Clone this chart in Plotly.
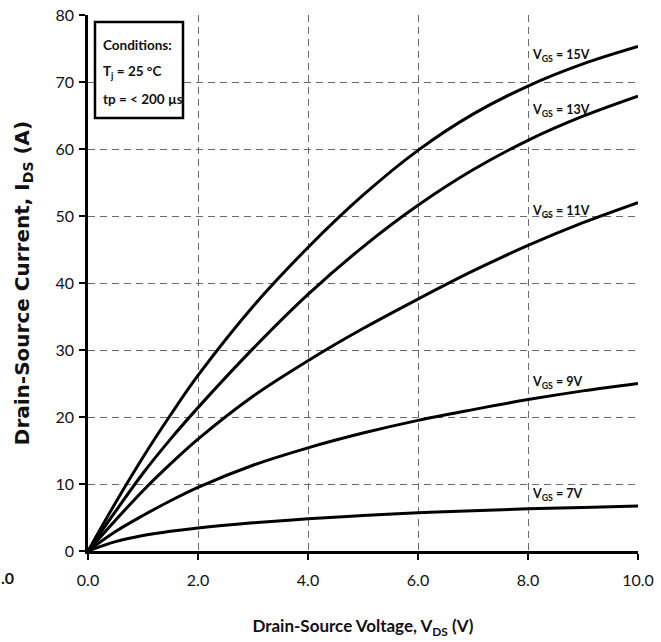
import plotly.graph_objects as go

# Output characteristics: drain current vs drain-source voltage at several gate voltages
vds = [0, 0.5, 1, 1.5, 2, 3, 4, 5, 6, 7, 8, 9, 10]
ids_15v = [0, 7.2, 14.0, 20.3, 26.2, 36.5, 45.3, 53.1, 59.8, 65.2, 69.4, 72.7, 75.3]
ids_13v = [0, 5.9, 11.6, 16.7, 21.4, 30.2, 38.3, 45.4, 51.6, 56.9, 61.3, 64.9, 67.9]
ids_11v = [0, 4.6, 9.0, 13.0, 16.7, 23.1, 28.4, 33.2, 37.6, 41.8, 45.6, 49.0, 52.0]
ids_9v = [0, 2.9, 5.3, 7.5, 9.5, 12.8, 15.4, 17.6, 19.5, 21.1, 22.6, 23.9, 25.0]
ids_7v = [0, 1.4, 2.3, 2.95, 3.45, 4.2, 4.8, 5.3, 5.7, 6.0, 6.3, 6.5, 6.7]

series = [
    ("V<sub>GS</sub> = 15V", ids_15v, 74.0),
    ("V<sub>GS</sub> = 13V", ids_13v, 65.8),
    ("V<sub>GS</sub> = 11V", ids_11v, 50.6),
    ("V<sub>GS</sub> = 9V", ids_9v, 25.1),
    ("V<sub>GS</sub> = 7V", ids_7v, 8.5),
]

x_ticks = [0, 2, 4, 6, 8, 10]
x_tick_text = ["0.0", "2.0", "4.0", "6.0", "8.0", "10.0"]
y_ticks = [0, 10, 20, 30, 40, 50, 60, 70, 80]

conditions = ["Conditions:", "T<sub>j</sub> = 25 °C", "tp = < 200 µs"]

font_main = "Lato"

fig = go.Figure()
for name, ys, _ in series:
    fig.add_trace(go.Scatter(
        x=vds, y=ys, mode="lines", name=name,
        line=dict(color="black", width=3, shape="spline", smoothing=1.0),
        showlegend=False,
    ))

for name, _, label_y in series:
    fig.add_annotation(
        x=8.04, y=label_y, xref="x", yref="y", text=f"<b>{name}</b>",
        showarrow=False, xanchor="left", yanchor="middle",
        font=dict(family=font_main, size=12.5, color="#111"),
    )

# Test conditions box: frame plus one text line per condition
fig.add_shape(
    type="rect", xref="paper", yref="paper",
    x0=0.0127, x1=0.1727, y0=0.808, y1=0.987,
    line=dict(color="black", width=2.5), fillcolor="white", layer="above",
)
for i, line_text in enumerate(conditions):
    fig.add_annotation(
        x=0.0236, y=0.944 - i * 0.0505, xref="paper", yref="paper",
        text=f"<b>{line_text}</b>", showarrow=False,
        xanchor="left", yanchor="middle",
        font=dict(family=font_main, size=13.5, color="#111"),
    )

# Clipped tick label at the far left of the tick row
fig.add_annotation(
    x=0, y=-0.05, xref="paper", yref="paper", text="<b>.0</b>",
    showarrow=False, xanchor="center", yanchor="middle",
    xshift=-81, font=dict(family=font_main, size=16, color="#111"),
)

grid_style = dict(showgrid=True, gridcolor="#6a6a6a", gridwidth=1.4, griddash="7px,5px")

fig.update_xaxes(
    range=[0, 10], tickvals=x_ticks, ticktext=x_tick_text, automargin=False,
    showline=True, linecolor="black", linewidth=2.5,
    ticks="outside", ticklen=6, tickwidth=2, tickcolor="black",
    ticklabelstandoff=7, zeroline=False,
    tickfont=dict(family=font_main, size=16, color="#111"),
    title=dict(text="<b>Drain-Source Voltage, V<sub>DS</sub> (V)</b>", standoff=33,
               font=dict(family=font_main, size=17, color="#111")),
    **grid_style,
)
fig.update_yaxes(
    range=[0, 80], tickvals=y_ticks, automargin=False,
    showline=True, linecolor="black", linewidth=2.5,
    ticks="outside", ticklen=6, tickwidth=2, tickcolor="black",
    ticklabelstandoff=2, zeroline=False,
    tickfont=dict(family=font_main, size=16, color="#111"),
    title=dict(text="<b>Drain-Source Current, I<sub>DS</sub> (A)</b>", standoff=21,
               font=dict(family="DejaVu Sans", size=20, color="#111")),
    **grid_style,
)

fig.update_layout(
    width=661, height=642,
    margin=dict(l=88, r=23, t=15, b=91),
    plot_bgcolor="white", paper_bgcolor="white",
)

fig.write_html("out.html")
